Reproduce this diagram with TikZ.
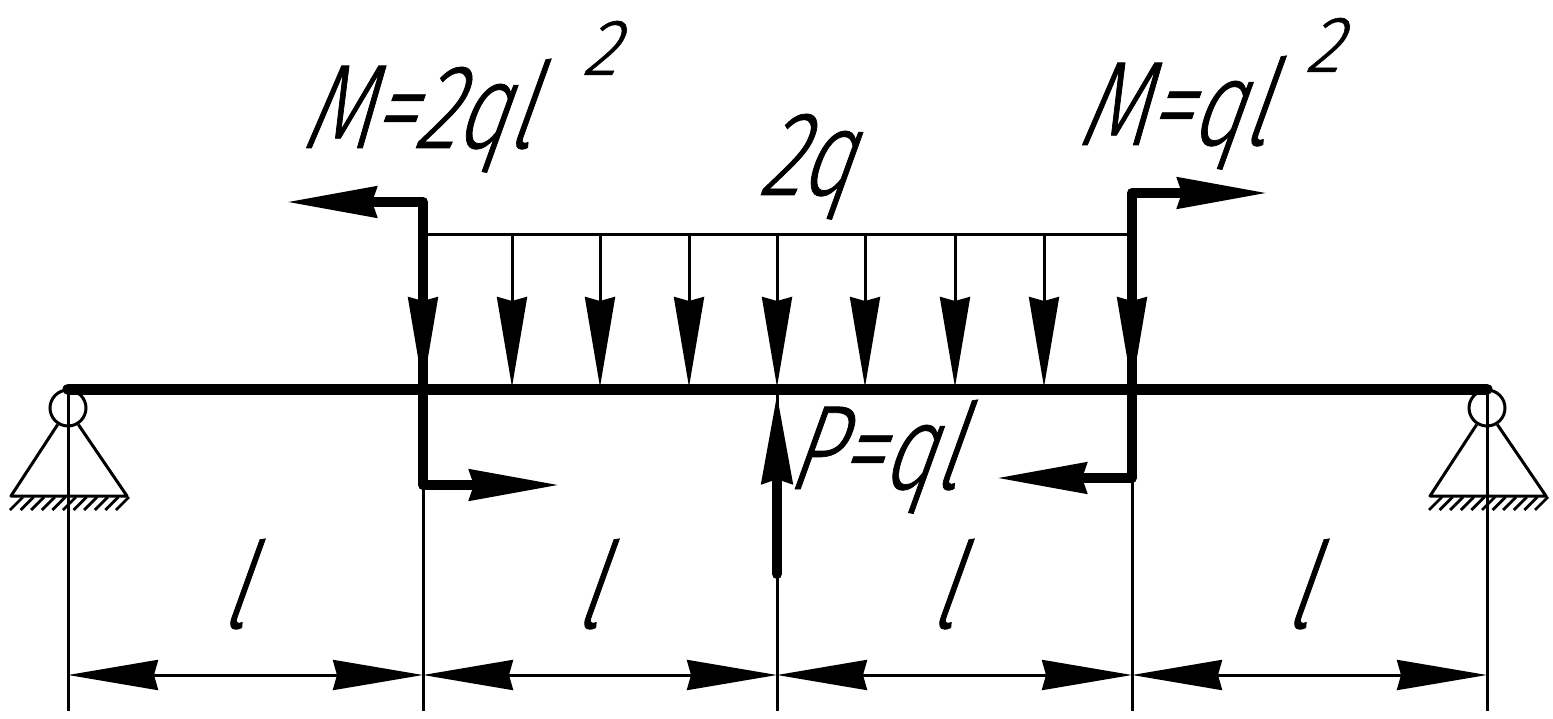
\documentclass[tikz,border=0pt]{standalone}
\usepackage{fontspec}
\usetikzlibrary{arrows.meta}
\newfontfamily\gostfont[FakeSlant=0.36,FakeStretch=0.74,FakeBold=0.6]{Fira Sans Light}
\newfontfamily\gostwide[FakeSlant=0.36,FakeStretch=0.92,FakeBold=0.6]{Fira Sans Light}
\tikzset{
  x=1pt,y=-1pt,
  thin line/.style={line width=3pt},
  heavy line/.style={line width=10pt,line cap=round,line join=round},
  beam line/.style={line width=11pt,line cap=round},
  head/.style={-{Stealth[length=90pt,width=30pt,inset=4pt]}},
  big label/.style={anchor=base west,inner sep=0pt,font=\gostfont\fontsize{120}{120}\selectfont},
  small label/.style={anchor=base west,inner sep=0pt,font=\gostwide\fontsize{80}{80}\selectfont},
}
\begin{document}
\begin{tikzpicture}
\useasboundingbox (0,0) rectangle (1553,719);
\fill[white] (0,0) rectangle (1553,719);
% stations
\foreach \n/\xx in {a/68,b/423,c/777,d/1132,e/1487}{
  \coordinate (\n-beam) at (\xx,389);
  \coordinate (\n-dim) at (\xx,675);
  \coordinate (\n-low) at (\xx,711);
}
% extension lines
\foreach \n in {a,b,c,d,e}{\draw[thin line] (\n-beam) -- (\n-low);}
% dimension lines
\foreach \p/\q in {a/b,b/c,c/d,d/e}{
  \draw[thin line,{Stealth[length=90pt,width=30pt,inset=4pt]}-{Stealth[length=90pt,width=30pt,inset=4pt]}] (\p-dim) -- (\q-dim);
}
% distributed load
\coordinate (loadL) at (423,235);
\coordinate (loadR) at (1132,235);
\draw[thin line] (loadL) -- (loadR);
\foreach \n/\xx in {1/423,2/512,3/600,4/689,5/777,6/865,7/955,8/1044,9/1132}{
  \coordinate (t\n) at (\xx,235);
  \coordinate (h\n) at (\xx,387);
  \draw[thin line,head] (t\n) -- (h\n);
}
% left moment
\coordinate (ml1) at (286,202);
\coordinate (ml2) at (423,202);
\coordinate (ml3) at (423,485);
\coordinate (ml4) at (560,485);
\draw[heavy line,line cap=butt,head] (ml2) -- (ml1);
\draw[heavy line,line cap=butt,head] (ml3) -- (ml4);
\draw[heavy line] (ml2) -- (ml3);
% right moment
\coordinate (mr1) at (1268,193);
\coordinate (mr2) at (1132,193);
\coordinate (mr3) at (1132,478);
\coordinate (mr4) at (996,478);
\draw[heavy line,line cap=butt,head] (mr2) -- (mr1);
\draw[heavy line,line cap=butt,head] (mr3) -- (mr4);
\draw[heavy line] (mr2) -- (mr3);
% beam
\draw[beam line] (a-beam) -- (e-beam);
% force P
\coordinate (pS) at (777,574);
\coordinate (pT) at (777,393);
\draw[heavy line,head] (pS) -- (pT);
% supports
\foreach \n/\xx in {sa/68,se/1487}{
  \begin{scope}[shift={(\xx,0)}]
    \node[circle,draw,line width=3pt,minimum size=36pt,inner sep=0pt] (\n) at (0,408) {};
    \coordinate (\n-l) at (-57,496);
    \coordinate (\n-r) at (59,496);
    \draw[thin line,line join=round] (\n.-122) -- (\n-l) -- (\n-r) -- (\n.-58);
    \foreach \k in {0,...,10}{
      \draw[line width=2.8pt] (-45+\k*10.6,497) -- (-58+\k*10.6,510);
    }
  \end{scope}
}
% labels
\node[big label] (lM1) at (300,148) {M=2ql};
\node[small label] (lS1) at (581,75) {2};
\node[big label] (lQ) at (757,195) {2q};
\node[big label] (lM2) at (1076,145) {M=ql};
\node[small label] (lS2) at (1304,72) {2};
\node[big label] (lP) at (785,489) {P=ql};
\foreach \n/\xx in {1/219,2/573,3/928,4/1283}{
  \node[big label] (ll\n) at (\xx,628) {l};
}
\end{tikzpicture}
\end{document}
